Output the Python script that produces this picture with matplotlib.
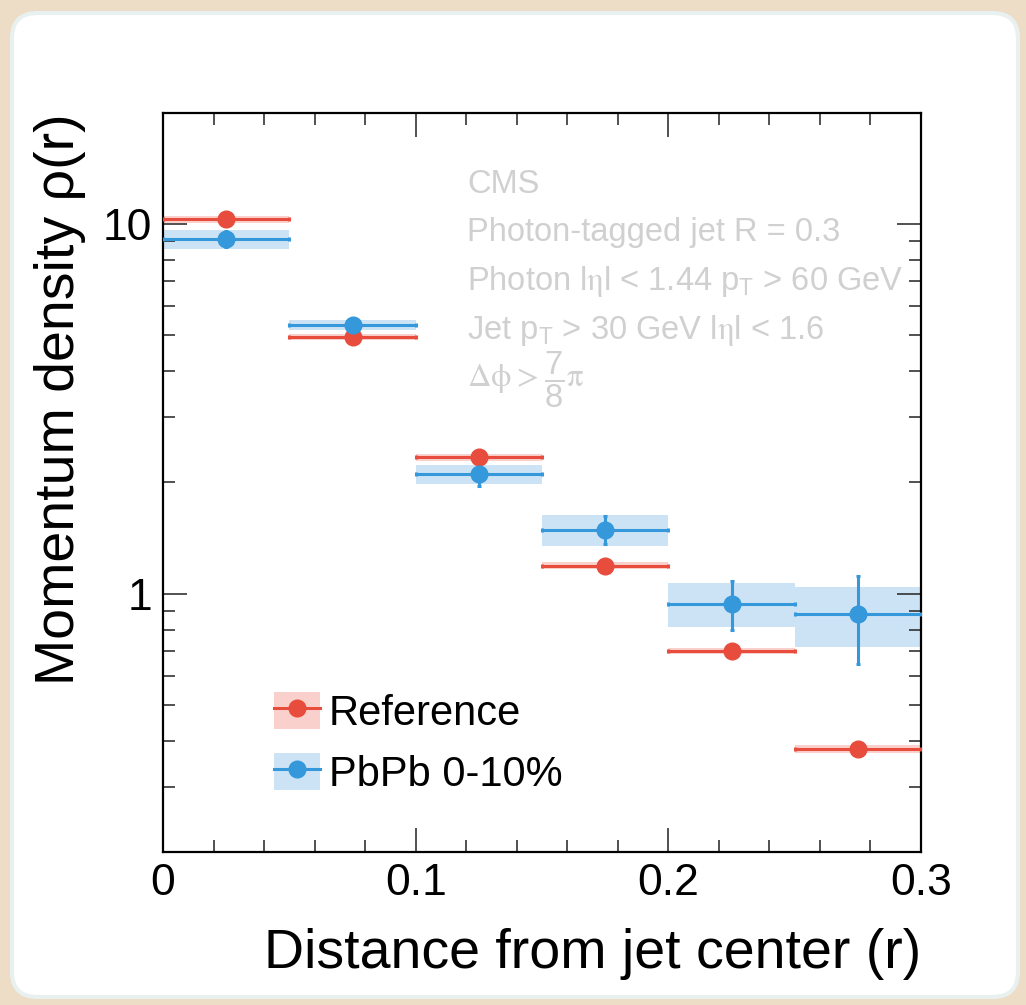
import matplotlib
matplotlib.use("Agg")
import matplotlib.pyplot as plt
from matplotlib.patches import FancyBboxPatch, Patch
from matplotlib.lines import Line2D
from matplotlib.ticker import MultipleLocator, LogLocator, NullFormatter, FixedLocator, FixedFormatter
import numpy as np

plt.rcParams['font.family'] = ['Liberation Sans', 'DejaVu Sans']
plt.rcParams['mathtext.fontset'] = 'custom'
plt.rcParams['mathtext.rm'] = 'STIXGeneral'
plt.rcParams['mathtext.sf'] = 'Liberation Sans'
plt.rcParams['mathtext.it'] = 'Liberation Sans:italic'

# data
bin_lo = [0.0, 0.05, 0.10, 0.15, 0.20, 0.25]
bin_hi = [0.05, 0.10, 0.15, 0.20, 0.25, 0.30]
ref_vals = [10.3, 4.96, 2.34, 1.19, 0.70, 0.38]
ref_stat = [0.05, 0.03, 0.02, 0.01, 0.008, 0.006]
ref_sys = [0.2, 0.1, 0.05, 0.025, 0.015, 0.01]
pbpb_vals = [9.11, 5.34, 2.11, 1.49, 0.94, 0.88]
pbpb_stat = [0.45, 0.15, 0.15, 0.13, 0.14, 0.235]
pbpb_sys = [0.53, 0.18, 0.125, 0.145, 0.127, 0.162]
labels = ['Reference', 'PbPb 0-10%']
info_lines = ['CMS',
              'Photon-tagged jet R = 0.3',
              r'Photon l$\mathrm{\eta}$l < 1.44 p$_{\mathsf{T}}$ > 60 GeV',
              r'Jet p$_{\mathsf{T}}$ > 30 GeV l$\mathrm{\eta}$l < 1.6',
              r'$\mathrm{\Delta\phi} > \dfrac{\mathsf{7}}{\mathsf{8}}\mathrm{\pi}$']

red = '#e74c3c'
blue = '#3498db'
red_box = '#f9d0cb'
blue_box = '#cce3f5'

centers = (np.array(bin_lo) + np.array(bin_hi)) / 2
widths = np.array(bin_hi) - np.array(bin_lo)

fig = plt.figure(figsize=(10.26, 10.05), dpi=100)
fig.patch.set_facecolor('#eddcc6')
panel = FancyBboxPatch((12/1026, 8/1005), 1006/1026, 984/1005,
                       boxstyle='round,pad=0,rounding_size=0.025',
                       transform=fig.transFigure, facecolor='white',
                       edgecolor='#e9f0f0', linewidth=3, zorder=-10)
fig.patches.append(panel)

ax = fig.add_axes([163/1026, 153/1005, 758/1026, 739/1005])
ax.set_facecolor('none')
ax.set_zorder(5)

# systematic boxes
for vals, sys, col in [(ref_vals, ref_sys, red_box), (pbpb_vals, pbpb_sys, blue_box)]:
    v = np.array(vals)
    s = np.array(sys)
    ax.bar(centers, 2 * s, bottom=v - s, width=widths, color=col, linewidth=0, zorder=1)

for vals, stat, col in [(ref_vals, ref_stat, red), (pbpb_vals, pbpb_stat, blue)]:
    ax.errorbar(centers, vals, xerr=widths / 2, yerr=stat, fmt='o', color=col,
                markersize=12, elinewidth=2.2, capsize=1.5, capthick=2.2, zorder=3)

ax.set_yscale('log')
ax.set_xlim(0, 0.3)
ax.set_ylim(0.2, 20)

ax.xaxis.set_major_locator(FixedLocator([0, 0.1, 0.2, 0.3]))
ax.xaxis.set_major_formatter(FixedFormatter(['0', '0.1', '0.2', '0.3']))
ax.xaxis.set_minor_locator(MultipleLocator(0.02))
ax.yaxis.set_major_locator(FixedLocator([1, 10]))
ax.yaxis.set_major_formatter(FixedFormatter(['1', '10']))
ax.yaxis.set_minor_locator(LogLocator(base=10, subs=np.arange(2, 10)))
ax.yaxis.set_minor_formatter(NullFormatter())

ax.tick_params(which='both', direction='in', top=True, right=True, width=1.1, color='#222222')
ax.tick_params(which='major', length=17, labelsize=32, pad=8)
ax.tick_params(which='minor', length=8.5)
for sp in ax.spines.values():
    sp.set_linewidth(1.6)

ax.set_xlabel('Distance from jet center (r)', fontsize=40, loc='right', labelpad=17)
ax.set_ylabel('Momentum density ρ(r)', fontsize=40, loc='top', labelpad=12)

# info text
for i, line in enumerate(info_lines):
    ax.text((467 - 163) / 758, (852 - 193 - i * 48.5) / 739, line,
            transform=ax.transAxes, fontsize=23.5, color='#d0d0d0',
            va='baseline', ha='left')

handles = [(Patch(facecolor=red_box, edgecolor='none'),
            Line2D([], [], color=red, marker='o', markersize=12, linewidth=2.2)),
           (Patch(facecolor=blue_box, edgecolor='none'),
            Line2D([], [], color=blue, marker='o', markersize=12, linewidth=2.2))]
ax.legend(handles, labels, loc='upper left', bbox_to_anchor=((274 - 163) / 758, (852 - 692) / 739),
          frameon=False, fontsize=30, borderpad=0, borderaxespad=0,
          handlelength=1.1, handleheight=1.0, handletextpad=0.22, labelspacing=0.45)

fig.savefig('out.png', dpi=100, facecolor=fig.get_facecolor())
